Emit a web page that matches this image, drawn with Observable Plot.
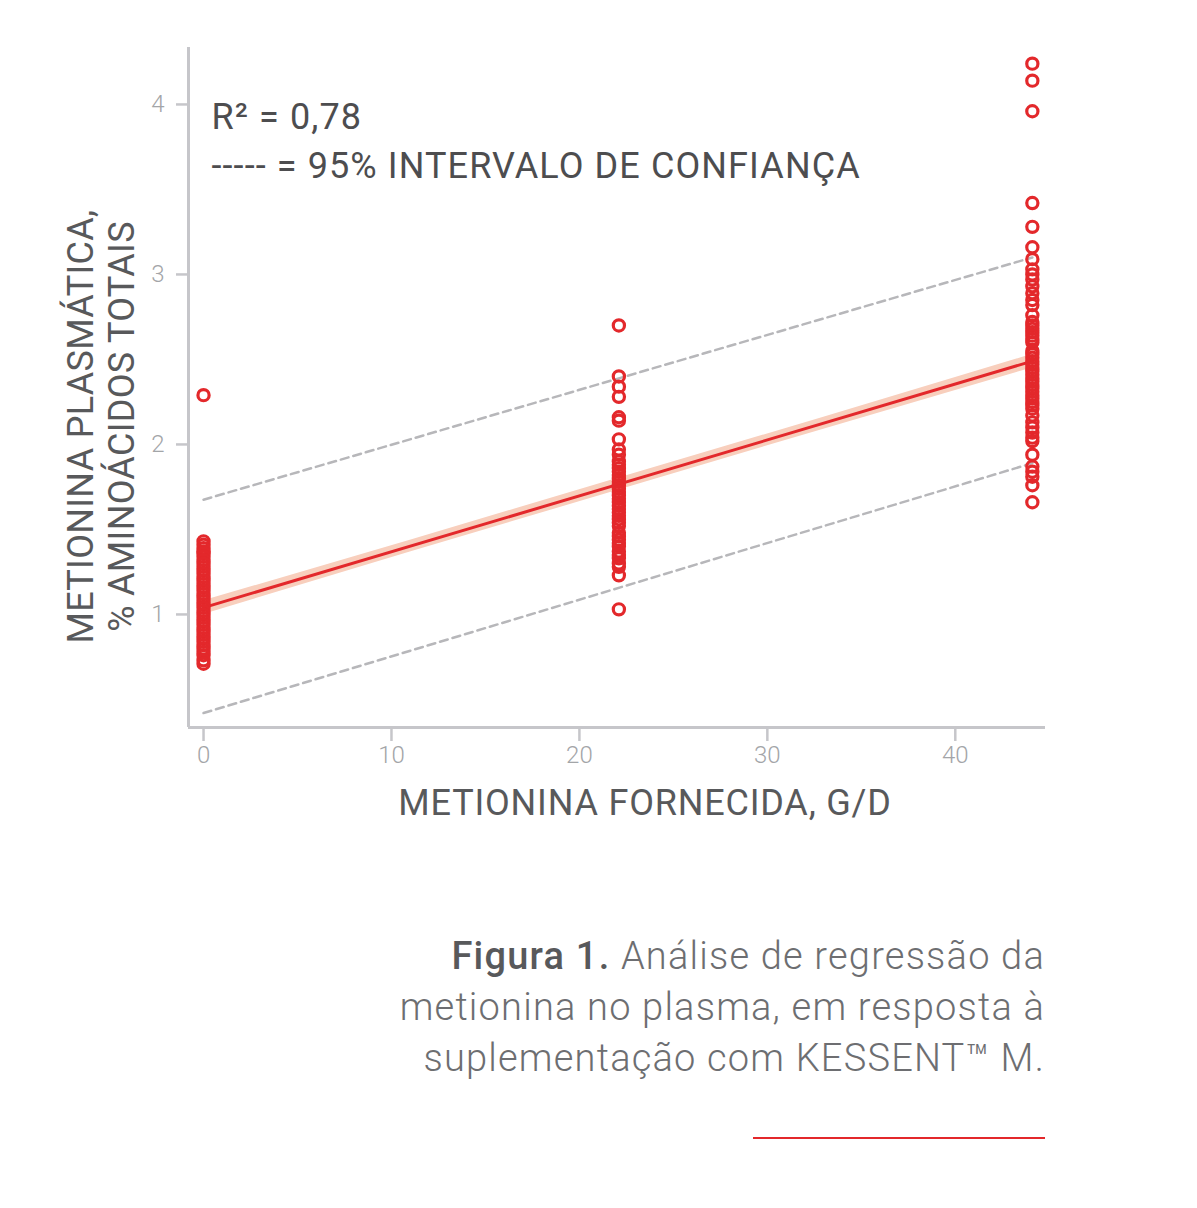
<!DOCTYPE html>
<html>
<head>
<meta charset="utf-8">
<script src="https://cdn.jsdelivr.net/npm/d3@7"></script>
<script src="https://cdn.jsdelivr.net/npm/@observablehq/plot@0.6"></script>
<style>
  html, body { margin: 0; padding: 0; background: #ffffff; }
  body { font-family: Roboto, "Noto Sans", sans-serif; }
  #wrap { position: relative; width: 1197px; height: 1208px; overflow: hidden; }
  #chart { position: absolute; left: 0; top: 0; }
  #caption {
    position: absolute; right: 152px; top: 931px;
    text-align: right; font-size: 38px; line-height: 51px;
    color: #6d6e71; font-weight: 300; letter-spacing: 1.2px; white-space: nowrap;
  }
  #caption b { font-weight: 500; color: #58595b; }
  #rule { position: absolute; left: 753px; top: 1137px; width: 292px; height: 2px; background: #e3282b; }
</style>
</head>
<body>
<div id="wrap">
  <div id="chart"></div>
  <div id="caption"></div>
  <div id="rule"></div>
</div>
<script>
// ---- data ----
const doses = [0, 22.1, 44.1];
const plasma0 = [2.29, 1.43, 1.41, 1.39, 1.37, 1.36, 1.34, 1.32, 1.30, 1.28, 1.26, 1.24, 1.22, 1.20, 1.18, 1.16, 1.14, 1.12, 1.10, 1.08, 1.06, 1.04, 1.02, 1.00, 0.98, 0.96, 0.94, 0.92, 0.90, 0.88, 0.86, 0.84, 0.82, 0.80, 0.78, 0.76, 0.73, 0.71];
const plasma22 = [2.70, 2.40, 2.34, 2.28, 2.16, 2.14, 2.03, 1.97, 1.94, 1.90, 1.88, 1.86, 1.84, 1.82, 1.80, 1.78, 1.76, 1.74, 1.72, 1.70, 1.68, 1.66, 1.64, 1.62, 1.60, 1.58, 1.56, 1.54, 1.52, 1.48, 1.46, 1.44, 1.42, 1.40, 1.37, 1.35, 1.33, 1.30, 1.28, 1.23, 1.03];
const plasma44 = [4.24, 4.14, 3.96, 3.42, 3.28, 3.16, 3.09, 3.03, 3.00, 2.97, 2.93, 2.89, 2.85, 2.82, 2.76, 2.72, 2.70, 2.68, 2.66, 2.64, 2.62, 2.60, 2.55, 2.53, 2.51, 2.49, 2.47, 2.45, 2.43, 2.41, 2.39, 2.37, 2.35, 2.33, 2.31, 2.29, 2.27, 2.25, 2.23, 2.21, 2.17, 2.13, 2.10, 2.07, 2.04, 2.02, 1.94, 1.87, 1.84, 1.81, 1.76, 1.66];

// regression fit and 95% interval
const fitX = [0, 44.1];
const fitY = [1.04, 2.49];
const upperY = [1.675, 3.10];
const lowerY = [0.42, 1.89];
// narrow confidence band around the fit
const bandX = [0, 11, 22.1, 33, 44.1];
const bandLow = [1.0, 1.367, 1.732, 2.09, 2.45];
const bandHigh = [1.08, 1.437, 1.802, 2.16, 2.53];

const xDomain = [-0.8, 44.8];
const yDomain = [0.335, 4.335];
const xTicks = [0, 10, 20, 30, 40];
const yTicks = [1, 2, 3, 4];

const annotLines = ["R² = 0,78", "----- = 95% INTERVALO DE CONFIANÇA"];
const yTitleLines = ["METIONINA PLASMÁTICA,", "% AMINOÁCIDOS TOTAIS"];
const xTitle = "METIONINA FORNECIDA, G/D";
const captionBold = "Figura 1.";
const captionLines = [" Análise de regressão da", "metionina no plasma, em resposta à", "suplementação com KESSENT™ M."];

// ---- tables ----
const points = [
  ...plasma0.map(v => ({x: doses[0], y: v})),
  ...plasma22.map(v => ({x: doses[1], y: v})),
  ...plasma44.map(v => ({x: doses[2], y: v}))
];
const fit = fitX.map((x, i) => ({x, y: fitY[i]}));
const upper = fitX.map((x, i) => ({x, y: upperY[i]}));
const lower = fitX.map((x, i) => ({x, y: lowerY[i]}));
const band = bandX.map((x, i) => ({x, y1: bandLow[i], y2: bandHigh[i]}));

const red = "#e3282b";
const axisGray = "#c6c6ca";
const tickText = "#a3a5a8";

const chart = Plot.plot({
  width: 1197,
  height: 850,
  marginLeft: 188,
  marginRight: 152,
  marginTop: 47,
  marginBottom: 123,
  style: {fontFamily: "Roboto, 'Noto Sans', sans-serif", background: "#ffffff", overflow: "visible"},
  x: {domain: xDomain, label: null},
  y: {domain: yDomain, label: null},
  marks: [
    Plot.areaY(band, {x: "x", y1: "y1", y2: "y2", fill: "#f8cfbd", fillOpacity: 1}),
    Plot.line(upper, {x: "x", y: "y", stroke: "#b7b7ba", strokeWidth: 2.5, strokeDasharray: "8,5"}),
    Plot.line(lower, {x: "x", y: "y", stroke: "#b7b7ba", strokeWidth: 2.5, strokeDasharray: "8,5"}),
    Plot.line(fit, {x: "x", y: "y", stroke: red, strokeWidth: 3}),
    Plot.dot(points, {x: "x", y: "y", r: 5.6, stroke: red, strokeWidth: 3.2, fill: "none"}),
    Plot.ruleX([xDomain[0]], {stroke: axisGray, strokeWidth: 3}),
    Plot.ruleY([yDomain[0]], {stroke: axisGray, strokeWidth: 3}),
    Plot.axisX({ticks: xTicks, tickFormat: "d", tickSize: 14, tickPadding: 4, stroke: axisGray, strokeWidth: 2.5, fill: tickText, fontSize: 24, fontWeight: 300, label: null}),
    Plot.axisY({ticks: yTicks, tickFormat: "d", tickSize: 12, tickPadding: 12, stroke: axisGray, strokeWidth: 2.5, fill: tickText, fontSize: 24, fontWeight: 300, label: null}),
    Plot.text([annotLines.join("\n")], {
      frameAnchor: "top-left", textAnchor: "start", lineAnchor: "top",
      dx: 23, dy: 47, lineHeight: 1.36, fontSize: 36, fill: "#4d4d4f"
    }),
    Plot.text([yTitleLines.join("\n")], {
      frameAnchor: "left", textAnchor: "middle", lineAnchor: "middle", rotate: -90,
      dx: -88, dy: 39, lineHeight: 1.12, fontSize: 36, fill: "#58595b"
    }),
    Plot.text([xTitle], {
      frameAnchor: "bottom", textAnchor: "middle", lineAnchor: "middle",
      dx: 28, dy: 76, fontSize: 36, fill: "#58595b"
    })
  ]
});
document.getElementById("chart").appendChild(chart);

// letter-spacing for the condensed-looking titles
const spacing = [
  [annotLines[0], "1.1px"],
  [yTitleLines[0], "0.3px"],
  [xTitle, "0.8px"]
];
d3.select(chart).selectAll("text").each(function () {
  const t = this.textContent;
  for (const [start, ls] of spacing) {
    if (t.startsWith(start)) this.style.letterSpacing = ls;
  }
});

const cap = document.getElementById("caption");
const b = document.createElement("b");
b.textContent = captionBold;
cap.appendChild(b);
captionLines.forEach((line, i) => {
  if (i > 0) cap.appendChild(document.createElement("br"));
  cap.appendChild(document.createTextNode(line));
});
</script>
</body>
</html>
